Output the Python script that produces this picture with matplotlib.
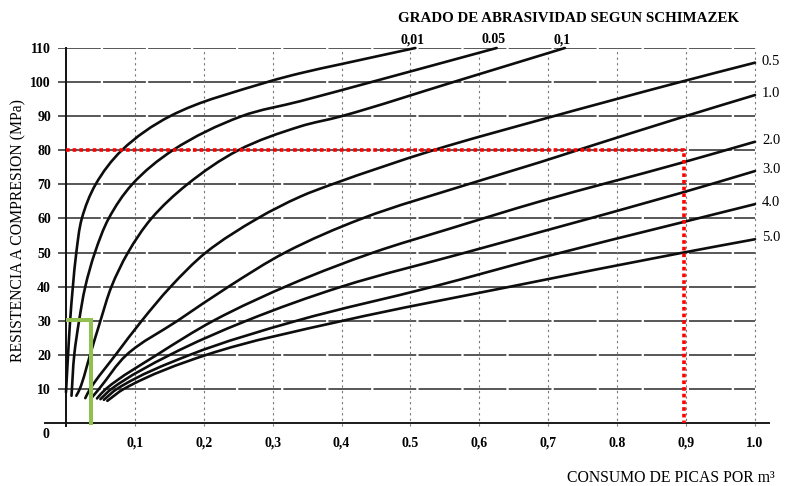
import matplotlib
matplotlib.use("Agg")
import matplotlib.pyplot as plt
import numpy as np
from matplotlib.path import Path
from matplotlib.patches import PathPatch

# ---------------- data ----------------
# Abrasiveness grade (Schimazek) curves: x = pick consumption per m3, y = compressive strength (MPa)
x_001 = [0.0, 0.003, 0.006, 0.010, 0.015, 0.023, 0.043, 0.081, 0.151, 0.292, 0.340, 0.400, 0.507]
y_001 = [9.0, 20.0, 30.0, 40.0, 50.0, 60.0, 70.0, 80.0, 90.0, 100.0, 102.6, 105.3, 110.0]

x_005 = [0.008, 0.012, 0.019, 0.028, 0.042, 0.062, 0.096, 0.155, 0.255, 0.340, 0.443, 0.625]
y_005 = [8.0, 20.0, 30.0, 40.0, 50.0, 60.0, 70.0, 80.0, 90.0, 94.4, 100.0, 110.0]

x_01 = [0.015, 0.020, 0.035, 0.050, 0.066, 0.090, 0.124, 0.176, 0.250, 0.340, 0.400, 0.562, 0.724]
y_01 = [8.0, 10.0, 20.0, 30.0, 40.0, 50.0, 60.0, 70.0, 80.0, 87.0, 90.0, 100.0, 110.0]

x_05 = [0.028, 0.035, 0.072, 0.110, 0.152, 0.203, 0.278, 0.340, 0.386, 0.533, 0.688, 0.891, 1.0]
y_05 = [7.3, 10.0, 20.0, 30.0, 40.0, 50.0, 60.0, 66.4, 70.0, 80.0, 88.9, 100.0, 105.7]

x_10 = [0.038, 0.048, 0.088, 0.162, 0.236, 0.318, 0.430, 0.583, 0.688, 0.742, 0.891, 1.0]
y_10 = [7.6, 10.0, 20.0, 30.0, 40.0, 50.0, 60.0, 70.0, 76.5, 80.0, 89.5, 96.2]

x_20 = [0.045, 0.058, 0.132, 0.214, 0.330, 0.446, 0.557, 0.688, 0.891, 1.0]
y_20 = [7.2, 10.0, 20.0, 30.0, 41.0, 50.0, 57.0, 65.0, 76.2, 82.5]

x_30 = [0.050, 0.066, 0.151, 0.262, 0.400, 0.580, 0.688, 0.891, 1.0]
y_30 = [7.0, 10.0, 20.0, 30.0, 40.0, 50.0, 56.0, 67.4, 73.9]

x_40 = [0.055, 0.074, 0.180, 0.335, 0.533, 0.688, 0.891, 1.0]
y_40 = [6.8, 10.0, 20.0, 30.0, 40.0, 48.4, 58.7, 64.2]

x_50 = [0.060, 0.084, 0.204, 0.402, 0.645, 0.891, 1.0]
y_50 = [6.5, 10.0, 20.0, 30.0, 40.0, 49.8, 53.9]

curves_x = [x_001, x_005, x_01, x_05, x_10, x_20, x_30, x_40, x_50]
curves_y = [y_001, y_005, y_01, y_05, y_10, y_20, y_30, y_40, y_50]
top_labels = ["0,01", "0.05", "0,1"]
right_labels = ["0.5", "1.0", "2.0", "3.0", "4.0", "5.0"]

# example reading lines
red_x = [0.0, 0.897, 0.897]
red_y = [80.0, 80.0, 0.0]
green_x = [0.0, 0.036, 0.036]
green_y = [30.3, 30.3, -0.5]

x_ticks = [0.1, 0.2, 0.3, 0.4, 0.5, 0.6, 0.7, 0.8, 0.9, 1.0]
x_tick_labels = ["0,1", "0,2", "0,3", "0,4", "0.5", "0,6", "0,7", "0.8", "0,9", "1.0"]
y_ticks = [10, 20, 30, 40, 50, 60, 70, 80, 90, 100, 110]
y_tick_labels = [str(v) for v in y_ticks]

# ---------------- helpers ----------------
SX, SY = 689.0, 3.41  # approx pixel per data unit, used only for smooth tangents


def smooth_curve_path(xs, ys):
    """Smooth Bezier path passing through the given points (rendering only)."""
    P = np.column_stack([np.asarray(xs) * SX, np.asarray(ys) * SY])
    n = len(P)
    T = np.zeros_like(P)
    for i in range(n):
        if i == 0:
            d = P[1] - P[0]
            d = d / np.linalg.norm(d)
        elif i == n - 1:
            d = P[-1] - P[-2]
            d = d / np.linalg.norm(d)
        else:
            a = P[i] - P[i - 1]
            b = P[i + 1] - P[i]
            d = a / np.linalg.norm(a) + b / np.linalg.norm(b)
        T[i] = d / np.linalg.norm(d)
    verts = [P[0]]
    codes = [Path.MOVETO]
    for i in range(n - 1):
        L = np.linalg.norm(P[i + 1] - P[i])
        verts += [P[i] + T[i] * L / 3, P[i + 1] - T[i + 1] * L / 3, P[i + 1]]
        codes += [Path.CURVE4] * 3
    V = np.array(verts) / np.array([SX, SY])
    return Path(V, codes)


# ---------------- figure ----------------
SERIF = ["Liberation Serif", "DejaVu Serif"]
plt.rcParams["font.family"] = SERIF

W, H = 785, 486
fig = plt.figure(figsize=(W / 100, H / 100), dpi=100)
ax = fig.add_axes([58 / W, 63 / H, 697 / W, 375 / H])
ax.set_xlim(-0.0116, 1.0)
ax.set_ylim(0, 110)
for s in ax.spines.values():
    s.set_visible(False)

# grid
for yv in y_ticks:
    ax.axhline(yv, color="#2a2a2a", lw=1.1, linestyle=(0, (28, 1.5)), zorder=1)
ax.plot([-0.03, 1.02], [0, 0], color="#1a1a1a", lw=1.4, clip_on=False, zorder=1)
for xv in x_ticks:
    ax.plot([xv, xv], [-1, 110], color="#777777", lw=0.8, linestyle=(0, (2, 3)),
            clip_on=False, zorder=1)
ax.plot([0, 0], [-1, 110], color="#111111", lw=1.4, clip_on=False, zorder=2)

# curves
for cx, cy in zip(curves_x, curves_y):
    patch = PathPatch(smooth_curve_path(cx, cy), facecolor="none", edgecolor="#0d0d0d",
                      lw=1.9, capstyle="round", joinstyle="round", zorder=3)
    patch.set_clip_on(False)
    ax.add_patch(patch)

# curve labels
for lab, cx, cy in zip(top_labels, curves_x[:3], curves_y[:3]):
    ax.annotate(lab, xy=(cx[-1], cy[-1]), xytext=(-2, 6), textcoords="offset points",
                ha="center", va="center", fontsize=10, fontweight="bold",
                annotation_clip=False)
for lab, cx, cy in zip(right_labels, curves_x[3:], curves_y[3:]):
    ax.annotate(lab, xy=(cx[-1], cy[-1]), xytext=(5, 1), textcoords="offset points",
                ha="left", va="center", fontsize=10.5, annotation_clip=False)

# reading lines
ax.plot(red_x, red_y, color="#ff0000", lw=2.6, linestyle=(0, (1.0, 0.85)),
        dash_capstyle="butt", clip_on=False, zorder=4)
ax.plot(green_x, green_y, color="#92c050", lw=2.9, solid_capstyle="butt",
        solid_joinstyle="miter", clip_on=False, zorder=4)

# ticks
ax.set_xticks(x_ticks)
ax.set_xticklabels(x_tick_labels, fontsize=10, fontweight="bold")
ax.set_yticks(y_ticks)
ax.set_yticklabels(y_tick_labels, fontsize=10, fontweight="bold")
ax.tick_params(axis="both", length=0)
ax.tick_params(axis="x", pad=10)
ax.tick_params(axis="y", pad=5)
ax.text(-0.024, -3.5, "0", ha="right", va="center", fontsize=10, fontweight="bold")

# titles
fig.text(18 / W, 1 - 230 / H, "RESISTENCIA A COMPRESION (MPa)", rotation=90,
         ha="center", va="center", fontsize=11.3)
fig.text(775 / W, 1 - 478 / H, "CONSUMO DE PICAS POR m³", ha="right", va="center",
         fontsize=11.3)
fig.text(569 / W, 1 - 18 / H, "GRADO DE ABRASIVIDAD SEGUN SCHIMAZEK", ha="center",
         va="center", fontsize=10.8, fontweight="bold")

fig.savefig("out.png", dpi=100, facecolor="white")
